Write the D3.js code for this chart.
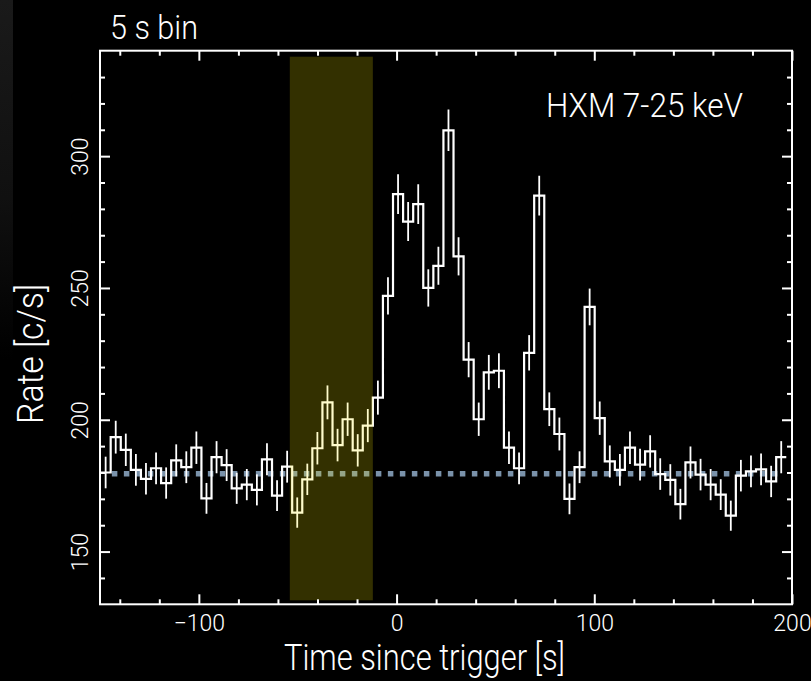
<!DOCTYPE html>
<html>
<head>
<meta charset="utf-8">
<script src="https://cdn.jsdelivr.net/npm/d3@7"></script>
<style>
  html, body { margin: 0; background: #000; }
  svg { display: block; }
  text { font-family: "Liberation Sans Narrow", "Roboto", "Liberation Sans", sans-serif; font-weight: 300; fill: #fff; }
</style>
</head>
<body>
<svg id="chart" width="811" height="681"></svg>
<script>
// HXM 7-25 keV light curve; bin edges in seconds since trigger
const firstBinStart = -149.7;
const binWidth = 5.1;
const rates = [
  180.0, 193.4, 188.6, 181.0, 177.6, 181.6, 176.0, 184.6, 182.0, 189.4,
  170.2, 185.8, 182.8, 174.0, 175.4, 173.4, 185.0, 171.2,
  182.2, 164.8, 177.4, 189.2, 206.6, 190.4, 200.2, 188.4, 197.8,
  208.4, 247.0, 285.6, 275.2, 281.8, 250.0, 258.4, 309.8, 262.0, 222.8,
  200.2, 218.0, 218.6, 189.4, 181.6, 225.4,
  285.0, 204.0, 194.6, 170.0, 182.0, 242.8, 200.6, 184.2, 181.0, 189.4,
  183.0, 188.0,
  179.4, 177.2, 168.0, 183.8, 179.2, 175.4, 171.6, 163.6, 178.8, 180.4,
  181.2, 176.6, 185.8
];
const backgroundRate = 179.5;
const backgroundSpan = [-144, 193];
const preWindow = [-54, -12];
const xDomain = [-150, 200];
const yDomain = [130, 340];
const xMajorTicks = [-100, 0, 100, 200];
const xMinorTicks = [-140, -120, -80, -60, -40, -20, 20, 40, 60, 80, 120, 140, 160, 180];
const yMajorTicks = [150, 200, 250, 300];
const yMinorTicks = [140, 160, 170, 180, 190, 210, 220, 230, 240, 260, 270, 280, 290, 310, 320, 330];

const bins = rates.map((r, i) => {
  const t0 = firstBinStart + i * binWidth;
  // Poisson error from the counts collected in a 5 s exposure
  const err = Math.sqrt(r * 5) / 5;
  return { t0, t1: t0 + binWidth, mid: t0 + binWidth / 2, rate: r, err };
});

const svg = d3.select("#chart");
const plot = { left: 100, right: 792, top: 50.7, bottom: 604.3 };

const x = d3.scaleLinear().domain(xDomain).range([plot.left, plot.right]);
const y = d3.scaleLinear().domain(yDomain).range([plot.bottom, plot.top]);

// faint grey strip at the left edge
const defs = svg.append("defs");
const grad = defs.append("linearGradient").attr("id", "edge").attr("x1", 0).attr("y1", 0).attr("x2", 0).attr("y2", 1);
grad.append("stop").attr("offset", 0).attr("stop-color", "#1a1a1a");
grad.append("stop").attr("offset", 0.55).attr("stop-color", "#101010");
grad.append("stop").attr("offset", 1).attr("stop-color", "#000");
svg.append("rect").attr("x", 0).attr("y", 0).attr("width", 13).attr("height", 360).attr("fill", "url(#edge)");

defs.append("clipPath").attr("id", "plotclip")
  .append("rect")
  .attr("x", plot.left).attr("y", plot.top)
  .attr("width", plot.right - plot.left).attr("height", plot.bottom - plot.top);

const g = svg.append("g").attr("clip-path", "url(#plotclip)");

// background level
g.append("line")
  .attr("x1", x(backgroundSpan[0])).attr("x2", x(backgroundSpan[1]))
  .attr("y1", y(backgroundRate)).attr("y2", y(backgroundRate))
  .attr("stroke", "#7a92aa").attr("stroke-width", 5.5)
  .attr("stroke-dasharray", "5.5 6.5");

// histogram steps
const stepPts = bins.map(b => [b.t0, b.rate]);
stepPts.push([bins[bins.length - 1].t1, bins[bins.length - 1].rate]);
const step = d3.line().x(d => x(d[0])).y(d => y(d[1])).curve(d3.curveStepAfter);
g.append("path").attr("d", step(stepPts))
  .attr("fill", "none").attr("stroke", "#fff").attr("stroke-width", 2.2);

// error bars
g.selectAll("line.err").data(bins).join("line").attr("class", "err")
  .attr("x1", d => x(d.mid)).attr("x2", d => x(d.mid))
  .attr("y1", d => y(d.rate - d.err)).attr("y2", d => y(d.rate + d.err))
  .attr("stroke", "#fff").attr("stroke-width", 1.8);

// pre-burst window
svg.append("rect")
  .attr("x", x(preWindow[0])).attr("width", x(preWindow[1]) - x(preWindow[0]))
  .attr("y", plot.top + 6).attr("height", plot.bottom - plot.top - 10)
  .attr("fill", "#ffee00").attr("fill-opacity", 0.2);

// axes, ticks pointing inward on all four sides
function styleAxis(sel) {
  sel.select(".domain").remove();
  sel.selectAll(".tick line").attr("stroke", "#fff").attr("stroke-width", 2);
}
const bottomMajor = svg.append("g").attr("transform", `translate(0,${plot.bottom})`)
  .call(d3.axisBottom(x).tickValues(xMajorTicks).tickSize(-10).tickPadding(10).tickFormat(d3.format("d")));
styleAxis(bottomMajor);
bottomMajor.selectAll("text").attr("font-size", 23).attr("fill", "#fff");
svg.append("g").attr("transform", `translate(0,${plot.bottom})`)
  .call(d3.axisBottom(x).tickValues(xMinorTicks).tickSize(-5).tickFormat("")).call(styleAxis);
svg.append("g").attr("transform", `translate(0,${plot.top})`)
  .call(d3.axisTop(x).tickValues(xMajorTicks).tickSize(-10).tickFormat("")).call(styleAxis);
svg.append("g").attr("transform", `translate(0,${plot.top})`)
  .call(d3.axisTop(x).tickValues(xMinorTicks).tickSize(-5).tickFormat("")).call(styleAxis);

const leftMajor = svg.append("g").attr("transform", `translate(${plot.left},0)`)
  .call(d3.axisLeft(y).tickValues(yMajorTicks).tickSize(-10).tickFormat(d3.format("d")));
styleAxis(leftMajor);
leftMajor.selectAll("text")
  .attr("font-size", 23).attr("fill", "#fff")
  .attr("text-anchor", "middle")
  .attr("transform", "rotate(-90)")
  .attr("x", 0).attr("y", -20).attr("dy", "0.36em");
svg.append("g").attr("transform", `translate(${plot.left},0)`)
  .call(d3.axisLeft(y).tickValues(yMinorTicks).tickSize(-5).tickFormat("")).call(styleAxis);
svg.append("g").attr("transform", `translate(${plot.right},0)`)
  .call(d3.axisRight(y).tickValues(yMajorTicks).tickSize(-10).tickFormat("")).call(styleAxis);
svg.append("g").attr("transform", `translate(${plot.right},0)`)
  .call(d3.axisRight(y).tickValues(yMinorTicks).tickSize(-5).tickFormat("")).call(styleAxis);

// frame
svg.append("rect")
  .attr("x", plot.left).attr("y", plot.top)
  .attr("width", plot.right - plot.left).attr("height", plot.bottom - plot.top)
  .attr("fill", "none").attr("stroke", "#fff").attr("stroke-width", 2);

// titles
svg.append("text").attr("x", 110).attr("y", 39).attr("font-size", 34)
  .attr("textLength", 88).attr("lengthAdjust", "spacingAndGlyphs").text("5 s bin");
svg.append("text").attr("x", 546).attr("y", 116.5).attr("font-size", 33)
  .attr("textLength", 197).attr("lengthAdjust", "spacingAndGlyphs").text("HXM 7-25 keV");
svg.append("text").attr("x", 284).attr("y", 670).attr("font-size", 36)
  .attr("textLength", 281).attr("lengthAdjust", "spacingAndGlyphs")
  .text("Time since trigger [s]");
svg.append("text").attr("transform", "translate(43,354) rotate(-90)")
  .attr("text-anchor", "middle").attr("font-size", 36)
  .attr("textLength", 140).attr("lengthAdjust", "spacingAndGlyphs")
  .text("Rate [c/s]");
</script>
</body>
</html>
